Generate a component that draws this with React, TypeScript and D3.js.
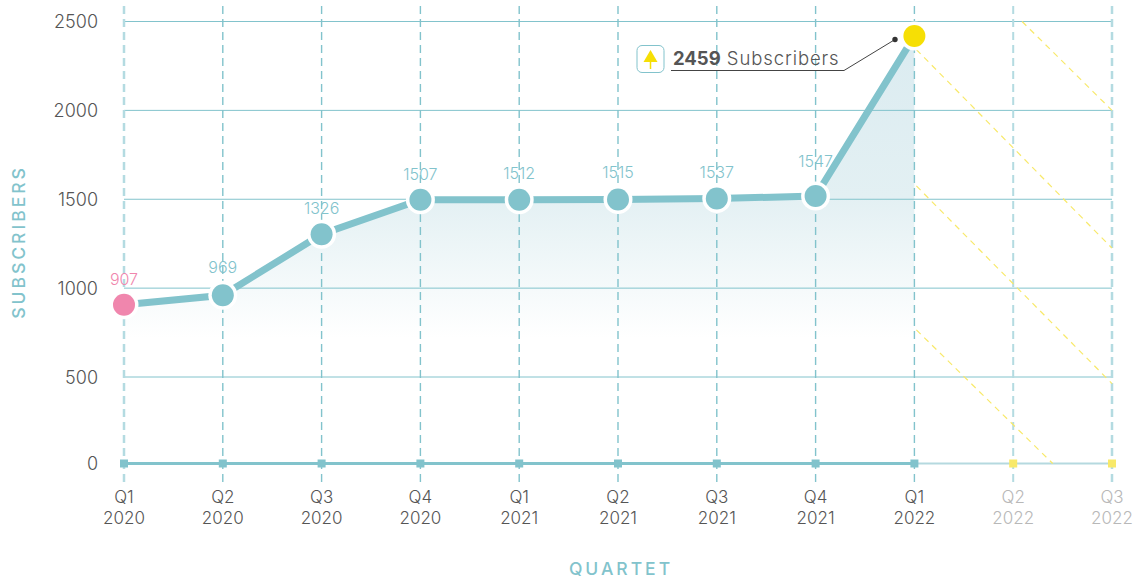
import React from "react";
import * as d3 from "d3";

const quarters = ["Q1","Q2","Q3","Q4","Q1","Q2","Q3","Q4","Q1","Q2","Q3"];
const years = ["2020","2020","2020","2020","2021","2021","2021","2021","2022","2022","2022"];
const plotted = [907, 960, 1303, 1497, 1497, 1499, 1504, 1518, 2418];
const valueLabels = ["907","969","1326","1507","1512","1515","1537","1547"];
const yTicks = [0, 500, 1000, 1500, 2000, 2500];
// hatch lines: [start index, start value, end index, end value]
const hatchStart = [[9.09, 2500, 10, 2000], [8.02, 2342, 10, 1225], [8.02, 1575, 10, 462], [8.02, 765, 9.4, 0]];

const TEAL = "#82c3cc";
const FONT = "Inter, Lato, sans-serif";

export default function App() {
  const x = d3.scaleLinear().domain([0, 10]).range([124, 1112]);
  const y = d3.scaleLinear().domain([0, 500, 2500]).range([463.5, 377, 21.5]);
  const pts = plotted.map((v, i) => [x(i), y(v)] as [number, number]);
  const line = d3.line()(pts) as string;
  const area = d3.area<[number, number]>().x(d => d[0]).y0(y(0)).y1(d => d[1])(pts) as string;

  return (
    <svg width={1140} height={581} style={{ position: "absolute", left: 0, top: 0 }} fontFamily={FONT}>
      <defs>
        <linearGradient id="fade" gradientUnits="userSpaceOnUse" x1="0" x2="0" y1={y(2300)} y2={y(720)}>
          <stop offset="0" stopColor="#dcecf1" />
          <stop offset="0.5" stopColor="#e3f0f3" />
          <stop offset="1" stopColor="#ffffff" />
        </linearGradient>
      </defs>

      <path d={area} fill="url(#fade)" />

      {yTicks.slice(1).map(t => (
        <line key={t} x1={x(0)} x2={x(10)} y1={y(t)} y2={y(t)} stroke={TEAL} strokeWidth={1} />
      ))}
      <line x1={x(8)} x2={x(10)} y1={y(0)} y2={y(0)} stroke="#b5d9df" strokeWidth={2} />

      {quarters.map((_, i) => (
        <line key={i} x1={x(i)} x2={x(i)} y1={6} y2={483}
          stroke={i === 0 || i >= 9 ? "#b4dbe1" : TEAL}
          strokeWidth={i === 0 || i === 10 ? 2.5 : i === 9 ? 2 : 1.4}
          strokeDasharray="8 5" />
      ))}

      {hatchStart.map((h, i) => (
        <line key={i} x1={x(h[0])} y1={y(h[1])} x2={x(h[2])} y2={y(h[3])}
          stroke="#f8e96a" strokeWidth={1.2} strokeDasharray="6 5" />
      ))}

      <line x1={x(0)} x2={x(8)} y1={y(0)} y2={y(0)} stroke={TEAL} strokeWidth={3} />
      {quarters.map((_, i) => (
        <rect key={i} x={x(i) - 4} y={y(0) - 4} width={8} height={8} fill={i >= 9 ? "#f8e96a" : TEAL} />
      ))}

      <path d={line} fill="none" stroke={TEAL} strokeWidth={7} />

      {pts.map((p, i) => (
        <g key={i}>
          <circle cx={p[0]} cy={p[1]} r={14.5} fill="#fff" />
          <circle cx={p[0]} cy={p[1]} r={11}
            fill={i === 0 ? "#f086ad" : i === 8 ? "#f6df05" : TEAL} />
        </g>
      ))}

      {valueLabels.map((l, i) => {
        const gap = i === 7 ? 29 : i >= 4 && i <= 6 ? 21 : i === 1 ? 22 : 20;
        return (
          <text key={i} x={x(i)} y={y(plotted[i]) - gap} textAnchor="middle" fontSize={16} fontWeight={300}
            fill={i === 0 ? "#f086ad" : TEAL}>{l}</text>
        );
      })}

      {yTicks.map(t => (
        <text key={t} x={98} y={y(t) + 6.5} textAnchor="end" fontSize={18} fontWeight={300} fill="#555">{t}</text>
      ))}

      {quarters.map((q, i) => (
        <text key={i} textAnchor="middle" fontSize={17} fontWeight={300} fill={i >= 9 ? "#b8b8b8" : "#555"}>
          <tspan x={x(i)} y={503}>{q}</tspan>
          <tspan x={x(i)} y={524}>{years[i]}</tspan>
        </text>
      ))}

      <text x={621} y={575} textAnchor="middle" fontSize={17.5} fontWeight={500} letterSpacing={3} fill={TEAL}>QUARTET</text>
      <text transform="translate(25,242) rotate(-90)" textAnchor="middle" fontSize={17.5} fontWeight={500} letterSpacing={3} fill={TEAL}>SUBSCRIBERS</text>

      <rect x={637} y={45.5} width={27} height={27} rx={5} fill="#fff" stroke={TEAL} strokeWidth={1} />
      <path d="M650.5 50 L657.5 62 L643.5 62 Z" fill="#f6df05" />
      <line x1={650.5} x2={650.5} y1={60} y2={69} stroke="#f6df05" strokeWidth={1.5} />
      <text x={673} y={65} fontSize={18.5} fontWeight={300} fill="#555">
        <tspan fontWeight={700}>2459</tspan>
        <tspan letterSpacing={0.9}> Subscribers</tspan>
      </text>
      <path d="M671 70.5 H844 L895 39.5" fill="none" stroke="#444" strokeWidth={1} />
      <circle cx={895} cy={39.5} r={2.7} fill="#333" />
    </svg>
  );
}
